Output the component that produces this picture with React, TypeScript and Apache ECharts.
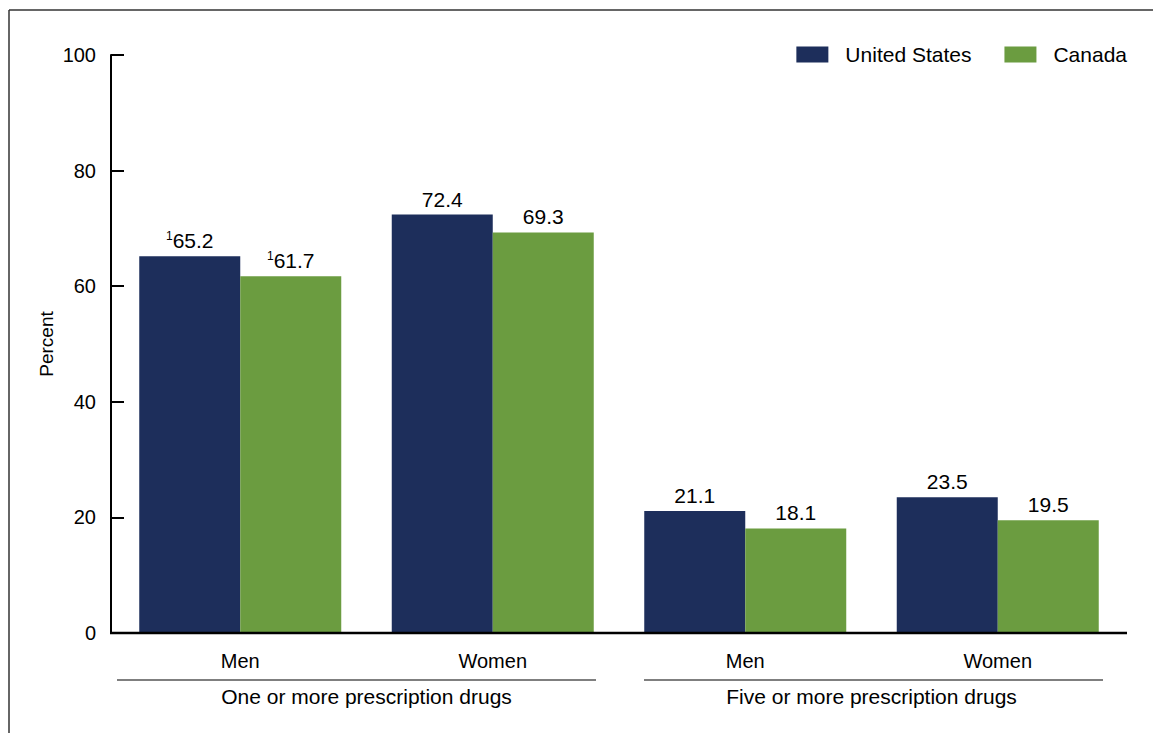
import React, { useEffect, useRef } from "react";
import * as echarts from "echarts";

const categories = ["Men", "Women", "Men", "Women"];
const groups = ["One or more prescription drugs", "Five or more prescription drugs"];
const seriesNames = ["United States", "Canada"];
const usValues = [65.2, 72.4, 21.1, 23.5];
const canadaValues = [61.7, 69.3, 18.1, 19.5];
const usNotes = ["1", "", "", ""];
const canadaNotes = ["1", "", "", ""];
const yTicks = [0, 20, 40, 60, 80, 100];

const NAVY = "#1d2e5b";
const GREEN = "#6b9c40";
const FONT = "Liberation Sans, Arial, sans-serif";

function makeLabel(notes: string[]) {
  return {
    show: true,
    position: "top",
    distance: 5,
    formatter: (p: any) => {
      const n = notes[p.dataIndex];
      const v = Number(p.value).toFixed(1);
      return n ? `{sup|${n}}{v|${v}}` : `{v|${v}}`;
    },
    rich: {
      v: { fontSize: 21, color: "#000", fontFamily: FONT },
      sup: { fontSize: 12, color: "#000", fontFamily: FONT, verticalAlign: "top", padding: [0, 0, 9, 0] },
    },
  };
}

export default function App() {
  const ref = useRef<HTMLDivElement>(null);
  useEffect(() => {
    if (!ref.current) return;
    const chart = echarts.init(ref.current, null, { renderer: "svg" });
    chart.setOption({
      animation: false,
      backgroundColor: "#fff",
      textStyle: { fontFamily: FONT },
      legend: {
        right: 21,
        top: 39,
        itemWidth: 32,
        itemHeight: 16,
        itemGap: 33,
        icon: "rect",
        textStyle: { fontSize: 21, color: "#000", fontFamily: FONT, padding: [0, 0, 0, 12] },
        data: seriesNames,
      },
      grid: { left: 114, right: 29, top: 55, bottom: 100, containLabel: false },
      xAxis: [
        {
          type: "category",
          data: categories,
          axisLine: { show: false },
          axisTick: { show: false },
          axisLabel: { fontSize: 20, color: "#000", margin: 18, fontFamily: FONT },
        },
        {
          type: "category",
          data: groups,
          position: "bottom",
          axisLine: { show: false },
          axisTick: { show: false },
          axisLabel: { fontSize: 21, color: "#000", margin: 53, fontFamily: FONT },
        },
      ],
      yAxis: {
        type: "value",
        min: 0,
        max: 100,
        interval: 20,
        offset: 3,
        name: "Percent",
        nameLocation: "middle",
        nameGap: 55,
        nameMoveOverlap: false,
        nameTextStyle: { fontSize: 19, color: "#000", fontFamily: FONT },
        axisLine: { show: true, lineStyle: { color: "#000", width: 2 } },
        axisTick: { show: true, inside: true, length: 13, lineStyle: { color: "#000", width: 2 } },
        axisLabel: {
          fontSize: 20,
          color: "#000",
          margin: 15,
          fontFamily: FONT,
          formatter: (v: number) => (yTicks.includes(v) ? String(v) : ""),
        },
        splitLine: { show: false },
      },
      series: [
        {
          name: seriesNames[0],
          type: "bar",
          data: usValues,
          itemStyle: { color: NAVY },
          barGap: "0%",
          barCategoryGap: "20%",
          label: makeLabel(usNotes),
        },
        {
          name: seriesNames[1],
          type: "bar",
          data: canadaValues,
          itemStyle: { color: GREEN },
          barGap: "0%",
          barCategoryGap: "20%",
          label: makeLabel(canadaNotes),
        },
      ],
      graphic: [
        { type: "line", shape: { x1: 9, y1: 10, x2: 1153, y2: 10 }, style: { stroke: "#333", lineWidth: 1.5 } },
        { type: "line", shape: { x1: 9, y1: 10, x2: 9, y2: 733 }, style: { stroke: "#333", lineWidth: 1.5 } },
        { type: "line", z: 10, shape: { x1: 110, y1: 633, x2: 1127, y2: 633 }, style: { stroke: "#000", lineWidth: 2.5 } },
        { type: "line", shape: { x1: 117, y1: 680, x2: 596, y2: 680 }, style: { stroke: "#000", lineWidth: 1.2 } },
        { type: "line", shape: { x1: 644, y1: 680, x2: 1103, y2: 680 }, style: { stroke: "#000", lineWidth: 1.2 } },
      ],
    });
    return () => chart.dispose();
  }, []);
  return (
    <div
      ref={ref}
      style={{ position: "fixed", left: 0, top: 0, width: 1153, height: 733 }}
    />
  );
}
